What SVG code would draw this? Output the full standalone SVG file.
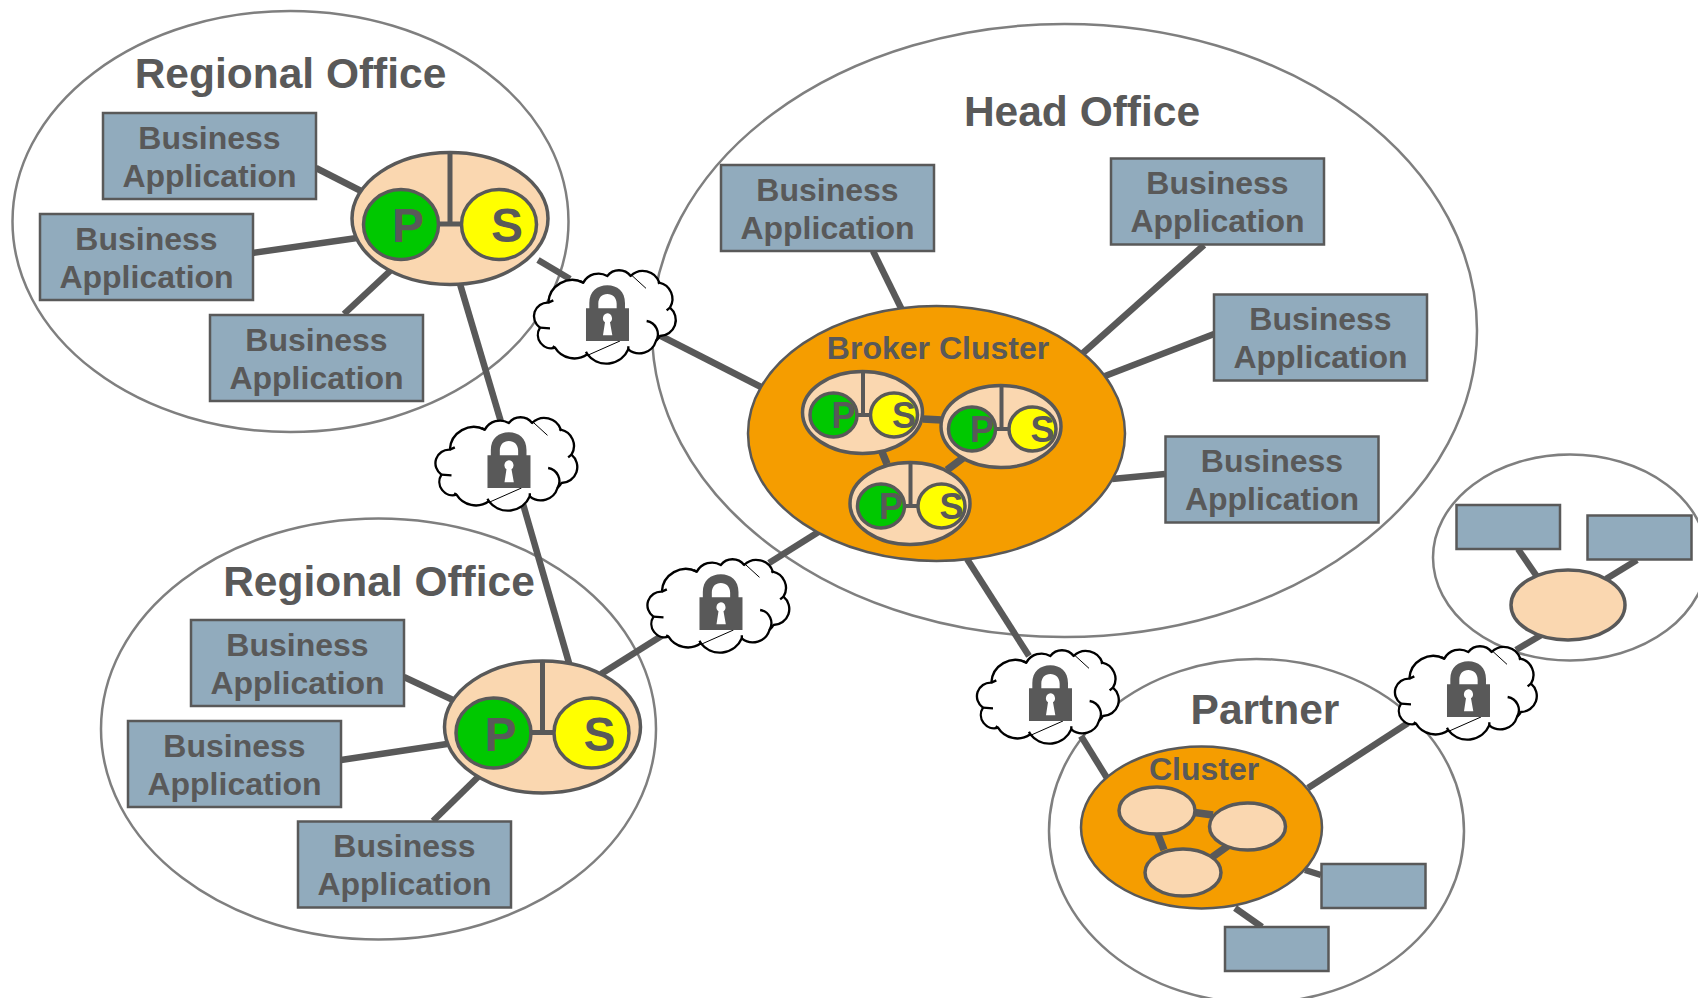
<svg xmlns="http://www.w3.org/2000/svg" xmlns:xlink="http://www.w3.org/1999/xlink" width="1698" height="998" viewBox="0 0 1698 998">
<style>
text{font-family:"Liberation Sans",Arial,sans-serif;font-weight:700;fill:#595959;text-anchor:middle}
.zone{fill:none;stroke:#7f7f7f;stroke-width:2.5}
.box{fill:#91abbd;stroke:#595959;stroke-width:2.5}
.ba{font-size:32px}
.title{font-size:42.500px}
.peach{fill:#fad7b0;stroke:#595959;stroke-width:3.500}
.orange{fill:#f59d00;stroke:#595959;stroke-width:2.5}
.p{fill:#00c800;stroke:#595959;stroke-width:3.500}
.s{fill:#ff0;stroke:#595959;stroke-width:3.500}
.sep{stroke:#595959;stroke-width:4;fill:none}
.sepb{stroke:#595959;stroke-width:5;fill:none}
.inner{stroke:#595959;stroke-width:7.500;fill:none}
#connectors line{stroke:#595959;stroke-width:6.500;stroke-linecap:butt}
.cl{fill:#fff;stroke:#000;stroke-width:7;stroke-linejoin:round}
.thin{stroke:#000;stroke-width:3;fill:none}
.lock{fill:#595959}
.key{fill:#fff}
</style>
<defs>
<g id="cloud" transform="scale(.3333)">
<path class="cl" d="M145 185A41 41 0 0 0 120 260A40 40 0 0 0 165 320A68 68 0 0 0 262 340A72 72 0 0 0 385 325A52 52 0 0 0 468 300A55 55 0 0 0 480 285A48 48 0 0 0 510 200A50 50 0 0 0 478 125A52 52 0 0 0 392 105A44 44 0 0 0 322 105A52 52 0 0 0 250 125A72 72 0 0 0 145 185Z"/>
<path class="cl" style="fill:none" d="M145 185L160 178M120 260L150 262M165 320L158 316M262 340L258 332M385 325L385 316M440 240A40 40 0 0 1 468 300M510 200L500 208M478 125L474 128M250 125L240 120"/>
<path class="thin" d="M392 100L438 142M265 342L360 300"/>
<path class="lock" fill-rule="evenodd" d="M258 202H268V186C268 152 292 133 322 133S375 152 375 186V202H387V300H258ZM295 202H350V188C350 170 338 159 322 159S295 170 295 188Z"/>
<path class="key" d="M322 217A15 15 0 0 1 330 244L337 283H309L315 244A15 15 0 0 1 322 217Z"/>
</g>
</defs>

<g id="zones">
<ellipse class="zone" cx="290.500" cy="221.500" rx="278" ry="210.500"/>
<ellipse class="zone" cx="1064.500" cy="330.500" rx="412.500" ry="306.500"/>
<ellipse class="zone" cx="378.500" cy="729" rx="277.500" ry="210.500"/>
<ellipse class="zone" cx="1256.500" cy="831" rx="207.500" ry="172"/>
<ellipse class="zone" cx="1570" cy="557.500" rx="137" ry="103"/>
</g>

<g id="connectors">
<line x1="316" y1="168" x2="363" y2="192"/>
<line x1="252" y1="253" x2="357" y2="238"/>
<line x1="344" y1="314" x2="390" y2="271"/>
<line x1="538" y1="260" x2="570" y2="279"/>
<line x1="460" y1="284" x2="501" y2="422"/>
<line x1="657" y1="334" x2="763" y2="388"/>
<line x1="523" y1="504" x2="569" y2="663"/>
<line x1="601" y1="674" x2="663" y2="635"/>
<line x1="769" y1="563" x2="820" y2="531"/>
<line x1="404" y1="677" x2="453" y2="700"/>
<line x1="341" y1="760" x2="447" y2="744"/>
<line x1="433" y1="821" x2="479" y2="776"/>
<line x1="873" y1="251" x2="902" y2="310"/>
<line x1="1204" y1="245" x2="1083" y2="353"/>
<line x1="1214" y1="334" x2="1105" y2="376"/>
<line x1="1165" y1="474" x2="1112" y2="479"/>
<line x1="967" y1="559" x2="1029" y2="656"/>
<line x1="1081" y1="736" x2="1107" y2="778"/>
<line x1="1308" y1="788" x2="1408" y2="723"/>
<line x1="1305" y1="870" x2="1321" y2="875"/>
<line x1="1235" y1="908" x2="1262" y2="927"/>
<line x1="1516" y1="650" x2="1543" y2="634"/>
<line x1="1518" y1="549" x2="1538" y2="578"/>
<line x1="1637" y1="560" x2="1606" y2="579"/>
</g>

<text class="title" x="290.500" y="88">Regional Office</text>
<text class="title" x="1082" y="126">Head Office</text>
<text class="title" x="379" y="596">Regional Office</text>
<text class="title" x="1265" y="724">Partner</text>

<g id="ba1" transform="translate(103 113)"><rect class="box" width="213" height="86"/><text class="ba" x="106.500" y="35.500">Business</text><text class="ba" x="106.500" y="73.500">Application</text></g>
<g id="ba2" transform="translate(40 214)"><rect class="box" width="213" height="86"/><text class="ba" x="106.500" y="35.500">Business</text><text class="ba" x="106.500" y="73.500">Application</text></g>
<g id="ba3" transform="translate(210 315)"><rect class="box" width="213" height="86"/><text class="ba" x="106.500" y="35.500">Business</text><text class="ba" x="106.500" y="73.500">Application</text></g>
<g id="ba4" transform="translate(191 620)"><rect class="box" width="213" height="86"/><text class="ba" x="106.500" y="35.500">Business</text><text class="ba" x="106.500" y="73.500">Application</text></g>
<g id="ba5" transform="translate(128 721)"><rect class="box" width="213" height="86"/><text class="ba" x="106.500" y="35.500">Business</text><text class="ba" x="106.500" y="73.500">Application</text></g>
<g id="ba6" transform="translate(298 821.500)"><rect class="box" width="213" height="86"/><text class="ba" x="106.500" y="35.500">Business</text><text class="ba" x="106.500" y="73.500">Application</text></g>
<g id="ba7" transform="translate(721 165)"><rect class="box" width="213" height="86"/><text class="ba" x="106.500" y="35.500">Business</text><text class="ba" x="106.500" y="73.500">Application</text></g>
<g id="ba8" transform="translate(1111 158.500)"><rect class="box" width="213" height="86"/><text class="ba" x="106.500" y="35.500">Business</text><text class="ba" x="106.500" y="73.500">Application</text></g>
<g id="ba9" transform="translate(1214 294.500)"><rect class="box" width="213" height="86"/><text class="ba" x="106.500" y="35.500">Business</text><text class="ba" x="106.500" y="73.500">Application</text></g>
<g id="ba10" transform="translate(1165.500 436.500)"><rect class="box" width="213" height="86"/><text class="ba" x="106.500" y="35.500">Business</text><text class="ba" x="106.500" y="73.500">Application</text></g>
<g id="bx1"><rect class="box" x="1456.500" y="505" width="103.500" height="44"/></g>
<g id="bx2"><rect class="box" x="1587.500" y="515.500" width="104" height="44"/></g>
<g id="bx3"><rect class="box" x="1321.500" y="864" width="104" height="44"/></g>
<g id="bx4"><rect class="box" x="1225" y="927" width="103.500" height="44"/></g>

<g id="node-top">
<ellipse class="peach" cx="450" cy="218.500" rx="98" ry="66"/>
<path class="sepb" d="M450 152V224M439 224H462"/>
<ellipse class="p" cx="401" cy="224.500" rx="37.500" ry="35"/>
<ellipse class="s" cx="499" cy="224.500" rx="37.500" ry="35"/>
<text x="408" y="242" font-size="48">P</text><text x="507" y="242" font-size="48">S</text>
</g>
<g id="node-bottom" transform="translate(92.500 508.500)">
<ellipse class="peach" cx="450" cy="218.500" rx="98" ry="66"/>
<path class="sepb" d="M450 152V224M439 224H462"/>
<ellipse class="p" cx="401" cy="224.500" rx="37.500" ry="35"/>
<ellipse class="s" cx="499" cy="224.500" rx="37.500" ry="35"/>
<text x="408" y="242" font-size="48">P</text><text x="507" y="242" font-size="48">S</text>
</g>

<g id="broker">
<ellipse class="orange" cx="936.500" cy="433.500" rx="188.500" ry="127.500"/>
<text x="938" y="359" font-size="32">Broker Cluster</text>
<path class="inner" d="M923 419L942 420M882 452L887 464M963 458L947 470"/>
</g>
<g id="broker-a">
<ellipse class="peach" cx="862.500" cy="412.500" rx="60" ry="41"/>
<path class="sep" d="M863 371V415M857 415H871"/>
<ellipse class="p" cx="833.500" cy="415" rx="23.500" ry="22"/>
<ellipse class="s" cx="894" cy="415" rx="23.500" ry="22"/>
<text x="843.500" y="428" font-size="36">P</text><text x="904" y="428" font-size="36">S</text>
</g>
<g id="broker-b" transform="translate(138.500 14)">
<ellipse class="peach" cx="862.500" cy="412.500" rx="60" ry="41"/>
<path class="sep" d="M863 371V415M857 415H871"/>
<ellipse class="p" cx="833.500" cy="415" rx="23.500" ry="22"/>
<ellipse class="s" cx="894" cy="415" rx="23.500" ry="22"/>
<text x="843.500" y="428" font-size="36">P</text><text x="904" y="428" font-size="36">S</text>
</g>
<g id="broker-c" transform="translate(47.500 91)">
<ellipse class="peach" cx="862.500" cy="412.500" rx="60" ry="41"/>
<path class="sep" d="M863 371V415M857 415H871"/>
<ellipse class="p" cx="833.500" cy="415" rx="23.500" ry="22"/>
<ellipse class="s" cx="894" cy="415" rx="23.500" ry="22"/>
<text x="843.500" y="428" font-size="36">P</text><text x="904" y="428" font-size="36">S</text>
</g>

<g id="partner-cluster">
<ellipse class="orange" cx="1201.500" cy="827.500" rx="120.500" ry="81"/>
<text x="1204" y="780" font-size="32">Cluster</text>
<path class="inner" d="M1191 812L1213 815M1157 832L1164 850M1211 858L1232 843"/>
<ellipse class="peach" cx="1157" cy="810.500" rx="38" ry="23.500"/>
<ellipse class="peach" cx="1247.500" cy="826.500" rx="38" ry="23.500"/>
<ellipse class="peach" cx="1183" cy="872.500" rx="38" ry="23.500"/>
</g>
<g id="small-node"><ellipse class="peach" cx="1568" cy="605" rx="57" ry="35"/></g>

<g id="cloud1" transform="translate(500 241)"><use xlink:href="#cloud" href="#cloud"/></g>
<g id="cloud2" transform="translate(401.500 388)"><use xlink:href="#cloud" href="#cloud"/></g>
<g id="cloud3" transform="translate(613.500 530)"><use xlink:href="#cloud" href="#cloud"/></g>
<g id="cloud4" transform="translate(943 621)"><use xlink:href="#cloud" href="#cloud"/></g>
<g id="cloud5" transform="translate(1361 617)"><use xlink:href="#cloud" href="#cloud"/></g>
</svg>
